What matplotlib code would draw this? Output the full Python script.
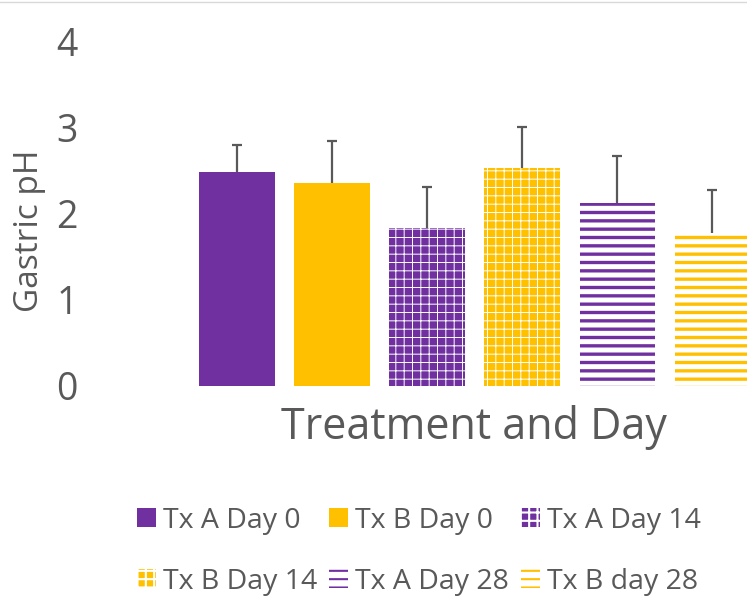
import matplotlib

matplotlib.use("Agg")
import matplotlib.pyplot as plt
from matplotlib.lines import Line2D

# values
labels = ["Tx A Day 0", "Tx B Day 0", "Tx A Day 14",
          "Tx B Day 14", "Tx A Day 28", "Tx B day 28"]
means = [2.49, 2.36, 1.84, 2.53, 2.13, 1.78]
errs = [0.31, 0.49, 0.47, 0.48, 0.54, 0.50]
yticks = [0, 1, 2, 3, 4]

PURPLE = "#7030a0"
GOLD = "#ffc000"
GRAY = "#595959"
colors = [PURPLE, GOLD, PURPLE, GOLD, PURPLE, GOLD]
styles = ["solid", "solid", "grid", "grid", "stripe", "stripe"]

plt.rcParams["font.family"] = "Open Sans"

W, H = 747, 597
fig = plt.figure(figsize=(W / 100, H / 100), dpi=100)
ax = fig.add_axes([100 / W, (H - 386) / H, 647 / W, (386 - 42) / H])

handles = []
for i, (m, e, c, s) in enumerate(zip(means, errs, colors, styles)):
    if s == "solid":
        b = ax.bar(i, m, 0.79, color=c, linewidth=0)
    elif s == "grid":
        with plt.rc_context({"hatch.linewidth": 0.7}):
            b = ax.bar(i, m, 0.79, color=c, edgecolor="white", hatch="++", linewidth=0)
    else:
        with plt.rc_context({"hatch.linewidth": 2.4}):
            b = ax.bar(i, m, 0.79, color="white", edgecolor=c, hatch="--", linewidth=0)
    _, caps, _ = ax.errorbar(i, m, yerr=[[0], [e]], fmt="none", ecolor=GRAY,
                             elinewidth=1.6, capsize=3.3, capthick=1.6)
    caps[0].set_visible(False)  # only the upper cap is drawn
    handles.append(b[0])

ax.set_xlim(-1.442, 5.368)
ax.set_ylim(0, 4)
ax.set_yticks(yticks)
ax.set_xticks([])
ax.tick_params(axis="y", length=0, pad=16, labelsize=27, labelcolor=GRAY)
for sp in ax.spines.values():
    sp.set_visible(False)

fig.text(30 / W, 1 - 231 / H, "Gastric pH", rotation=90, ha="center", va="center",
         fontsize=24, color=GRAY)
fig.text(474 / W, 1 - 428 / H, "Treatment and Day", ha="center", va="center",
         fontsize=31, color=GRAY)

order = [0, 3, 1, 4, 2, 5]
with plt.rc_context({"hatch.linewidth": 1.5}):
    leg = fig.legend([handles[k] for k in order], [labels[k] for k in order],
                     ncol=3, loc="upper left", bbox_to_anchor=(111 / W, 1 - 481 / H),
                     frameon=False, fontsize=20.5, handlelength=0.67, handleheight=0.67,
                     handletextpad=0.25, columnspacing=0.42, labelspacing=1.16,
                     labelcolor=GRAY)

fig.add_artist(Line2D([0, 1], [1 - 2 / H, 1 - 2 / H], transform=fig.transFigure,
                      color="#d9d9d9", linewidth=1))

fig.savefig("out.png", dpi=100)
